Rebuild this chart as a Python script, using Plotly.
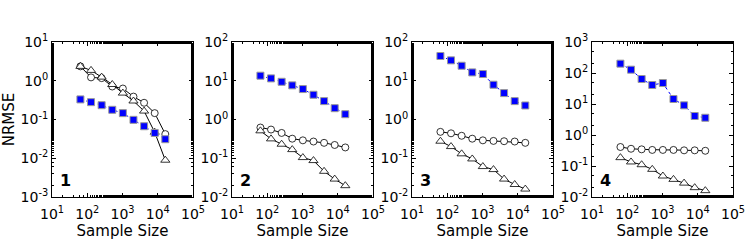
import plotly.graph_objects as go

sample_sizes = [64, 128, 256, 512, 1024, 2048, 4096, 8192, 16384]

p1_squares = [0.33, 0.28, 0.234, 0.178, 0.146, 0.098, 0.067, 0.045, 0.031]
p1_circles = [2.35, 1.22, 1.17, 0.71, 0.63, 0.39, 0.27, 0.146, 0.042]
p1_triangles = [2.35, 1.85, 1.24, 0.80, 0.48, 0.30, 0.165, 0.047, 0.0089]

p2_squares = [13.5, 11.5, 9.4, 7.6, 6.1, 4.35, 2.98, 1.96, 1.37]
p2_circles = [0.62, 0.55, 0.45, 0.32, 0.29, 0.27, 0.25, 0.22, 0.19]
p2_triangles = [0.51, 0.316, 0.23, 0.167, 0.104, 0.087, 0.046, 0.029, 0.0196]

p3_squares = [43.5, 33.6, 24.4, 16.4, 14.9, 7.9, 4.8, 2.98, 2.3]
p3_circles = [0.48, 0.44, 0.38, 0.32, 0.29, 0.28, 0.275, 0.27, 0.25]
p3_triangles = [0.275, 0.20, 0.13, 0.096, 0.061, 0.051, 0.029, 0.021, 0.016]

p4_squares = [200, 128, 64, 41, 47.5, 14.5, 9.06, 4.1, 3.6]
p4_circles = [0.41, 0.36, 0.345, 0.33, 0.33, 0.33, 0.32, 0.32, 0.31]
p4_triangles = [0.186, 0.135, 0.11, 0.078, 0.0475, 0.037, 0.028, 0.02, 0.016]

panel_labels = ["1", "2", "3", "4"]
y_ranges = [(-3, 1), (-2, 2), (-2, 2), (-2, 3)]
x_tick_vals = [10, 100, 1000, 10000, 100000]
x_tick_text = ["10<sup>1</sup>", "10<sup>2</sup>", "10<sup>3</sup>", "10<sup>4</sup>", "10<sup>5</sup>"]

panels = [
    (p1_squares, p1_circles, p1_triangles),
    (p2_squares, p2_circles, p2_triangles),
    (p3_squares, p3_circles, p3_triangles),
    (p4_squares, p4_circles, p4_triangles),
]

W, H = 747, 249
L, R, T, B = 52, 14, 42, 52
pw = W - L - R
starts = [52, 232, 412, 592]
width = 141

font = "DejaVu Sans"
fig = go.Figure()
layout = dict(
    width=W, height=H,
    margin=dict(l=L, r=R, t=T, b=B, autoexpand=False),
    paper_bgcolor="white", plot_bgcolor="white",
    showlegend=False,
    font=dict(family=font, size=14, color="black"),
)
annotations = []

for i, (sq, ci, tr) in enumerate(panels):
    n = "" if i == 0 else str(i + 1)
    xa, ya = "x" + n, "y" + n
    fig.add_trace(go.Scatter(
        x=sample_sizes, y=ci, xaxis=xa, yaxis=ya, mode="lines+markers",
        line=dict(color="black", width=1),
        marker=dict(symbol="circle", size=7, color="white", line=dict(color="black", width=0.8)),
    ))
    fig.add_trace(go.Scatter(
        x=sample_sizes, y=tr, xaxis=xa, yaxis=ya, mode="lines+markers",
        line=dict(color="black", width=1),
        marker=dict(symbol="triangle-up", size=8, color="white", line=dict(color="black", width=0.8)),
    ))
    fig.add_trace(go.Scatter(
        x=sample_sizes, y=sq, xaxis=xa, yaxis=ya, mode="lines+markers",
        line=dict(color="blue", width=1, dash="dot"),
        marker=dict(symbol="square", size=7, color="#0000ff", line=dict(color="#999999", width=1)),
    ))
    x0 = (starts[i] - L) / pw
    x1 = (starts[i] + width - L) / pw
    lo, hi = y_ranges[i]
    yvals = [10 ** k for k in range(lo, hi + 1)]
    ytext = ["10<sup>%d</sup>" % k for k in range(lo, hi + 1)]
    common = dict(
        showline=True, linecolor="black", linewidth=1, mirror="allticks",
        ticks="inside", ticklen=4, tickcolor="black", showgrid=False, zeroline=False,
        minor=dict(ticks="inside", ticklen=2, tickcolor="black", showgrid=False),
        tickfont=dict(family=font, size=14, color="black"),
        automargin=False,
    )
    layout["xaxis" + n] = dict(
        type="log", range=[1, 5], domain=[x0, x1], anchor=ya,
        tickvals=x_tick_vals, ticktext=x_tick_text, ticklabelstandoff=4,
        title=dict(text="Sample Size", font=dict(family=font, size=15), standoff=0),
        **common,
    )
    yax = dict(
        type="log", range=[lo, hi], domain=[0, 1], anchor=xa,
        tickvals=yvals, ticktext=ytext,
        **common,
    )
    if i == 0:
        yax["title"] = dict(text="NRMSE", font=dict(family=font, size=15), standoff=2)
    layout["yaxis" + n] = yax
    annotations.append(dict(
        text="<b>%s</b>" % panel_labels[i], xref="x%s domain" % n, yref="y%s domain" % n,
        x=0.045, y=0.035, xanchor="left", yanchor="bottom", showarrow=False,
        font=dict(family=font, size=16, color="black"),
    ))

layout["annotations"] = annotations
fig.update_layout(**layout)
fig.write_html("out.html", config={"displayModeBar": False},
               post_script="document.body.style.margin='0';document.body.style.padding='0';")
